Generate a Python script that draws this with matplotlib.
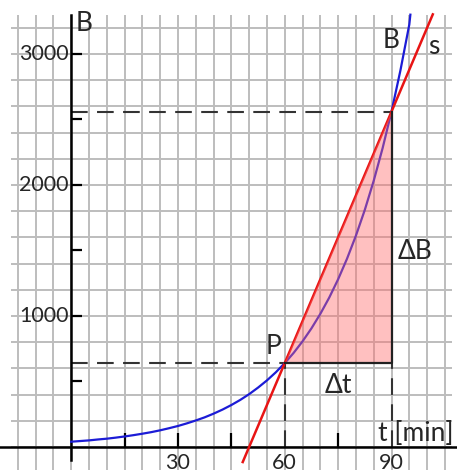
import numpy as np
import matplotlib
matplotlib.use("Agg")
import matplotlib.pyplot as plt

# curve B(t) (t in min)
t_vals = [0, 2.5, 5, 7.5, 10, 12.5, 15, 17.5, 20, 22.5, 25, 27.5, 30, 32.5, 35,
          37.5, 40, 42.5, 45, 47.5, 50, 52.5, 55, 57.5, 60, 62.5, 65, 67.5, 70,
          72.5, 75, 77.5, 80, 82.5, 85, 87.5, 90, 92.5, 95, 95.3]
b_vals = [40, 45, 50, 57, 63, 71, 80, 90, 101, 113, 127, 143, 160, 180, 202,
          226, 254, 285, 320, 359, 403, 453, 508, 570, 640, 718, 806, 905, 1016,
          1140, 1280, 1437, 1613, 1810, 2032, 2281, 2560, 2874, 3225, 3300]

# points P and B
p_t, p_b = 60, 640
q_t, q_b = 90, 2560

x_ticks = [15, 30, 45, 60, 75, 90]
x_labels = [30, 60, 90]
y_ticks = [500, 1000, 1500, 2000, 2500, 3000]
y_labels = [1000, 2000, 3000]

plt.rcParams['font.family'] = ['Lato', 'DejaVu Sans']

fig = plt.figure(figsize=(4.57, 4.70), dpi=100)
ax = fig.add_axes([0, 0, 1, 1])
ax.set_xlim(-20, 108.4)
ax.set_ylim(-176, 3412)
ax.axis("off")

grid_c = "#bdbdbd"
ax.vlines(np.arange(-15, 106, 5), -176, 3300, color=grid_c, lw=1.4, zorder=0)
ax.hlines(np.arange(-200, 3301, 200), -17, 107, color=grid_c, lw=1.4, zorder=0)

# axes
ax.axhline(0, color="black", lw=1.8, zorder=3)
ax.plot([0, 0], [-100, 3300], color="black", lw=1.8, zorder=3)
ax.vlines([t for t in x_ticks if t not in (p_t, q_t)], 0, 110,
          color="black", lw=1.6, zorder=3)
ax.hlines(y_ticks, 0, 3.0, color="black", lw=1.6, zorder=3)

txt_c = "#262626"
for v in y_labels:
    ax.text(-0.8, v, str(v), ha="right", va="center", fontsize=15.5, color=txt_c)
for v in x_labels:
    ax.text(v, -45, str(v), ha="center", va="top", fontsize=15.5, color=txt_c)

# dashed guides
dash = dict(color="#333333", lw=1.5, ls=(0, (8, 4.5)), zorder=2)
ax.plot([0, q_t], [q_b, q_b], **dash)
ax.plot([0, p_t], [p_b, p_b], **dash)
ax.plot([p_t, p_t], [0, p_b], **dash)
ax.plot([q_t, q_t], [0, p_b], **dash)

# curve and secant
ax.plot(t_vals, b_vals, color="#1c1cd6", lw=1.6, zorder=4)
slope = (q_b - p_b) / (q_t - p_t)
s_t = np.array([48.2, 101.6])
ax.plot(s_t, p_b + slope * (s_t - p_t), color="#e81414", lw=1.8, zorder=4)

# slope triangle
ax.fill([p_t, q_t, q_t], [p_b, q_b, p_b], color="#ff6b6b", alpha=0.42, lw=0, zorder=5)
ax.plot([p_t, q_t, q_t], [p_b, p_b, q_b], color="#222222", lw=1.6, zorder=6)

fs = 19
ax.text(1.3, 3330, "B", ha="left", va="top", fontsize=fs, color=txt_c)
ax.text(90.0, 3100, "B", ha="center", va="center", fontsize=fs, color=txt_c)
ax.text(102, 3060, "s", ha="center", va="center", fontsize=fs, color=txt_c)
ax.text(56.8, 770, "P", ha="center", va="center", fontsize=fs, color=txt_c)
ax.text(75, 470, "\u0394t", ha="center", va="center", fontsize=fs, color=txt_c)
ax.text(91.7, 1490, "\u0394B", ha="left", va="center", fontsize=fs, color=txt_c)
ax.text(86.3, 100, "t [min]", ha="left", va="center", fontsize=fs, color=txt_c)

fig.savefig("out.png", dpi=100)
